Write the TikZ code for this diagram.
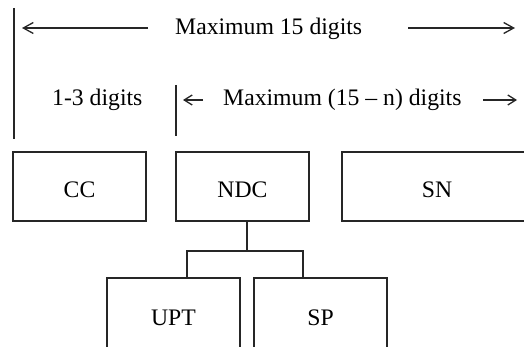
\documentclass[tikz,border=0pt]{standalone}
\usepackage{fontspec}
\setmainfont{Liberation Serif}
\usetikzlibrary{arrows.meta}
\begin{document}
\begin{tikzpicture}[x=1pt,y=-1pt,
  every node/.style={font=\fontsize{23.7}{28}\selectfont},
  rule/.style={line width=1.3pt, draw=black!85},
  label/.style={inner sep=0pt, anchor=base west},
  field/.style={rule, draw, minimum width=133pt, minimum height=69pt, inner sep=0pt},
  toprow/.style={field, text height=21.7pt, text depth=0pt},
  longarrow/.style={rule, -{Straight Barb[length=10pt,width=11pt,line width=1.3pt]}},
  shortarrow/.style={rule, -{Straight Barb[length=8pt,width=10pt,line width=1.3pt]}}]
  \useasboundingbox (0,0) rectangle (524,347);
  \clip (0,0) rectangle (524,347);

  % extent markers
  \coordinate (lt) at (14,8);   \coordinate (lb) at (14,139);
  \coordinate (mt) at (176,85); \coordinate (mb) at (176,136);
  \draw[rule] (lt) -- (lb);
  \draw[rule] (mt) -- (mb);

  % overall length
  \node[label] (max15) at (175,35) {Maximum 15 digits};
  \coordinate (a1s) at (148,28); \coordinate (a1e) at (22,28);
  \coordinate (a2s) at (408,28); \coordinate (a2e) at (515,28);
  \draw[longarrow] (a1s) -- (a1e);
  \draw[longarrow] (a2s) -- (a2e);

  % sub-lengths
  \node[label] (cclen) at (52,106) {1-3 digits};
  \node[label] (rest) at (223,106) {Maximum (15 – n) digits};
  \coordinate (b1s) at (203,100); \coordinate (b1e) at (183,100);
  \coordinate (b2s) at (483,100); \coordinate (b2e) at (517,100);
  \draw[shortarrow] (b1s) -- (b1e);
  \draw[shortarrow] (b2s) -- (b2e);

  % number fields
  \node[toprow] (cc)  at (79.5,186.5) {CC};
  \node[toprow] (ndc) at (242.5,186.5) {NDC};
  \node[toprow, minimum width=190pt] (sn) at (437,186.5) {SN};

  \node[field, minimum height=80pt] (upt) at (173.5,318) {UPT};
  \node[field, minimum height=80pt] (sp)  at (320.5,318) {SP};

  % branch from NDC
  \coordinate (ndcout) at ([xshift=4.5pt]ndc.south);
  \coordinate (fork) at (247,251);
  \coordinate (uptin) at ([xshift=13.5pt]upt.north);
  \coordinate (spin) at ([xshift=-17.5pt]sp.north);
  \draw[rule] (ndcout) -- (fork);
  \draw[rule] (uptin) |- (fork) -| (spin);
\end{tikzpicture}
\end{document}
